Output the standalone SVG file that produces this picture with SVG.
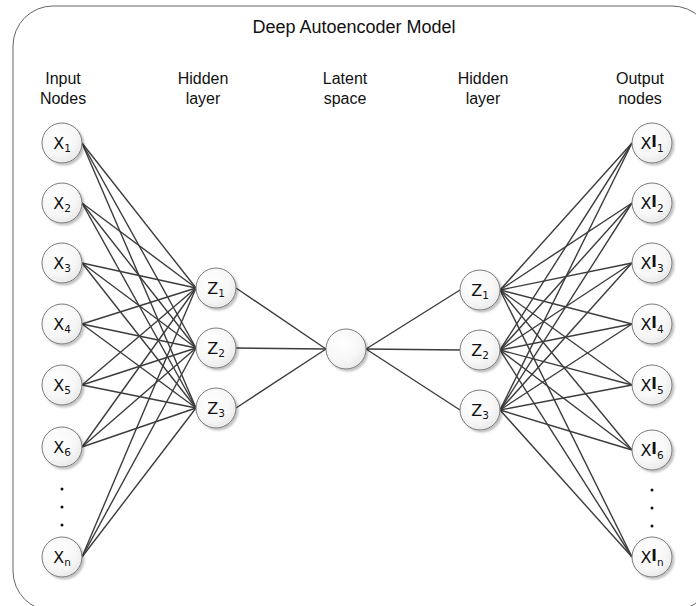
<svg xmlns="http://www.w3.org/2000/svg" width="696" height="606" viewBox="0 0 696 606">
<defs>
<radialGradient id="g" cx="0.4" cy="0.35" r="0.75">
<stop offset="0" stop-color="#ffffff"/>
<stop offset="0.6" stop-color="#f7f7f7"/>
<stop offset="1" stop-color="#e4e4e4"/>
</radialGradient>
<filter id="sh" x="-30%" y="-30%" width="160%" height="160%">
<feGaussianBlur in="SourceAlpha" stdDeviation="1.2"/>
<feOffset dx="1.5" dy="1.5" result="b"/>
<feComponentTransfer><feFuncA type="linear" slope="0.25"/></feComponentTransfer>
<feMerge><feMergeNode/><feMergeNode in="SourceGraphic"/></feMerge>
</filter>
</defs>
<style>
.frame{fill:#ffffff;stroke:#666666;stroke-width:1}
.title{font-family:"Liberation Sans",Arial,sans-serif;font-size:18px;fill:#111111;text-anchor:middle}
.col{font-family:"Liberation Sans",Arial,sans-serif;font-size:16px;fill:#111111;text-anchor:middle}
.node circle{fill:url(#g);stroke:#7a7a7a;stroke-width:1;filter:url(#sh)}
.lbl{font-family:"DejaVu Sans",Verdana,sans-serif;font-size:16px;fill:#111111;text-anchor:middle}
.sub{font-size:10.5px}
.sup{font-size:15px;font-weight:bold}
#connectors line{stroke:#3c3c3c;stroke-width:1.4}
.dot{fill:#111111}
</style>
<rect class="frame" x="13" y="6" width="699" height="605" rx="40" ry="40"/>
<text class="title" x="354" y="33">Deep Autoencoder Model</text>
<text class="col" x="63" y="84">Input</text><text class="col" x="63" y="104">Nodes</text>
<text class="col" x="203" y="84">Hidden</text><text class="col" x="203" y="104">layer</text>
<text class="col" x="345" y="84">Latent</text><text class="col" x="345" y="104">space</text>
<text class="col" x="483" y="84">Hidden</text><text class="col" x="483" y="104">layer</text>
<text class="col" x="640" y="84">Output</text><text class="col" x="640" y="104">nodes</text>
<g id="connectors">
<line x1="82" y1="143" x2="196" y2="288"/><line x1="82" y1="143" x2="196" y2="348"/><line x1="82" y1="143" x2="196" y2="408"/>
<line x1="82" y1="203" x2="196" y2="288"/><line x1="82" y1="203" x2="196" y2="348"/><line x1="82" y1="203" x2="196" y2="408"/>
<line x1="82" y1="263" x2="196" y2="288"/><line x1="82" y1="263" x2="196" y2="348"/><line x1="82" y1="263" x2="196" y2="408"/>
<line x1="82" y1="324" x2="196" y2="288"/><line x1="82" y1="324" x2="196" y2="348"/><line x1="82" y1="324" x2="196" y2="408"/>
<line x1="82" y1="385" x2="196" y2="288"/><line x1="82" y1="385" x2="196" y2="348"/><line x1="82" y1="385" x2="196" y2="408"/>
<line x1="82" y1="447" x2="196" y2="288"/><line x1="82" y1="447" x2="196" y2="348"/><line x1="82" y1="447" x2="196" y2="408"/>
<line x1="82" y1="557" x2="196" y2="288"/><line x1="82" y1="557" x2="196" y2="348"/><line x1="82" y1="557" x2="196" y2="408"/>
<line x1="236" y1="288" x2="326" y2="349"/><line x1="236" y1="348" x2="326" y2="349"/><line x1="236" y1="408" x2="326" y2="349"/>
<line x1="366" y1="349" x2="460" y2="290"/><line x1="366" y1="349" x2="460" y2="350"/><line x1="366" y1="349" x2="460" y2="410"/>
<line x1="500" y1="290" x2="632" y2="143"/><line x1="500" y1="350" x2="632" y2="143"/><line x1="500" y1="410" x2="632" y2="143"/>
<line x1="500" y1="290" x2="632" y2="203"/><line x1="500" y1="350" x2="632" y2="203"/><line x1="500" y1="410" x2="632" y2="203"/>
<line x1="500" y1="290" x2="632" y2="263"/><line x1="500" y1="350" x2="632" y2="263"/><line x1="500" y1="410" x2="632" y2="263"/>
<line x1="500" y1="290" x2="632" y2="324"/><line x1="500" y1="350" x2="632" y2="324"/><line x1="500" y1="410" x2="632" y2="324"/>
<line x1="500" y1="290" x2="632" y2="385"/><line x1="500" y1="350" x2="632" y2="385"/><line x1="500" y1="410" x2="632" y2="385"/>
<line x1="500" y1="290" x2="632" y2="450"/><line x1="500" y1="350" x2="632" y2="450"/><line x1="500" y1="410" x2="632" y2="450"/>
<line x1="500" y1="290" x2="632" y2="557"/><line x1="500" y1="350" x2="632" y2="557"/><line x1="500" y1="410" x2="632" y2="557"/>
</g>
<g id="x1" class="node"><circle cx="62" cy="143" r="20"/><text class="lbl" x="62" y="149">X<tspan class="sub" dy="3">1</tspan></text></g>
<g id="x2" class="node"><circle cx="62" cy="203" r="20"/><text class="lbl" x="62" y="209">X<tspan class="sub" dy="3">2</tspan></text></g>
<g id="x3" class="node"><circle cx="62" cy="263" r="20"/><text class="lbl" x="62" y="269">X<tspan class="sub" dy="3">3</tspan></text></g>
<g id="x4" class="node"><circle cx="62" cy="324" r="20"/><text class="lbl" x="62" y="330">X<tspan class="sub" dy="3">4</tspan></text></g>
<g id="x5" class="node"><circle cx="62" cy="385" r="20"/><text class="lbl" x="62" y="391">X<tspan class="sub" dy="3">5</tspan></text></g>
<g id="x6" class="node"><circle cx="62" cy="447" r="20"/><text class="lbl" x="62" y="453">X<tspan class="sub" dy="3">6</tspan></text></g>
<g id="xdots"><circle class="dot" cx="62" cy="489" r="1.5"/><circle class="dot" cx="62" cy="507" r="1.5"/><circle class="dot" cx="62" cy="525" r="1.5"/></g>
<g id="xn" class="node"><circle cx="62" cy="557" r="20"/><text class="lbl" x="62" y="563">X<tspan class="sub" dy="3">n</tspan></text></g>
<g id="z1a" class="node"><circle cx="216" cy="288" r="20"/><text class="lbl" x="216" y="294">Z<tspan class="sub" dy="3">1</tspan></text></g>
<g id="z2a" class="node"><circle cx="216" cy="348" r="20"/><text class="lbl" x="216" y="354">Z<tspan class="sub" dy="3">2</tspan></text></g>
<g id="z3a" class="node"><circle cx="216" cy="408" r="20"/><text class="lbl" x="216" y="414">Z<tspan class="sub" dy="3">3</tspan></text></g>
<g id="latent" class="node"><circle cx="346" cy="349" r="20"/></g>
<g id="z1b" class="node"><circle cx="480" cy="290" r="20"/><text class="lbl" x="480" y="296">Z<tspan class="sub" dy="3">1</tspan></text></g>
<g id="z2b" class="node"><circle cx="480" cy="350" r="20"/><text class="lbl" x="480" y="356">Z<tspan class="sub" dy="3">2</tspan></text></g>
<g id="z3b" class="node"><circle cx="480" cy="410" r="20"/><text class="lbl" x="480" y="416">Z<tspan class="sub" dy="3">3</tspan></text></g>
<g id="o1" class="node"><circle cx="652" cy="143" r="20"/><text class="lbl" x="652" y="149">X<tspan class="sup" dy="-2">I</tspan><tspan class="sub" dy="5">1</tspan></text></g>
<g id="o2" class="node"><circle cx="652" cy="203" r="20"/><text class="lbl" x="652" y="209">X<tspan class="sup" dy="-2">I</tspan><tspan class="sub" dy="5">2</tspan></text></g>
<g id="o3" class="node"><circle cx="652" cy="263" r="20"/><text class="lbl" x="652" y="269">X<tspan class="sup" dy="-2">I</tspan><tspan class="sub" dy="5">3</tspan></text></g>
<g id="o4" class="node"><circle cx="652" cy="324" r="20"/><text class="lbl" x="652" y="330">X<tspan class="sup" dy="-2">I</tspan><tspan class="sub" dy="5">4</tspan></text></g>
<g id="o5" class="node"><circle cx="652" cy="385" r="20"/><text class="lbl" x="652" y="391">X<tspan class="sup" dy="-2">I</tspan><tspan class="sub" dy="5">5</tspan></text></g>
<g id="o6" class="node"><circle cx="652" cy="450" r="20"/><text class="lbl" x="652" y="456">X<tspan class="sup" dy="-2">I</tspan><tspan class="sub" dy="5">6</tspan></text></g>
<g id="odots"><circle class="dot" cx="652" cy="490" r="1.5"/><circle class="dot" cx="652" cy="508" r="1.5"/><circle class="dot" cx="652" cy="526" r="1.5"/></g>
<g id="on" class="node"><circle cx="652" cy="557" r="20"/><text class="lbl" x="652" y="563">X<tspan class="sup" dy="-2">I</tspan><tspan class="sub" dy="5">n</tspan></text></g>
</svg>
